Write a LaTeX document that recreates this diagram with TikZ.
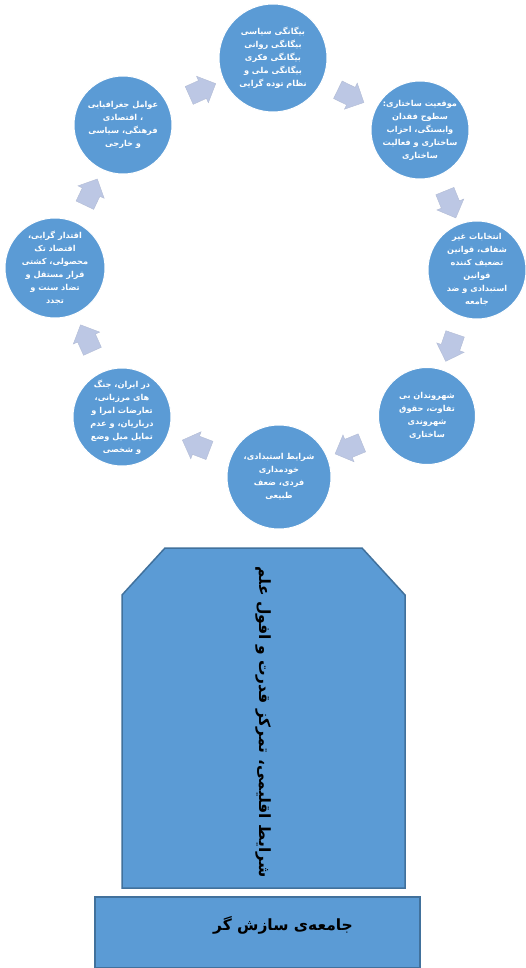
\documentclass[tikz,border=0pt]{standalone}
\usepackage{fontspec}
\usetikzlibrary{shapes.arrows,calc}
\TeXXeTstate=1
\newfontfamily\arabicfont[Script=Arabic]{DejaVu Sans}
\newcommand{\rl}[1]{\beginR #1\endR}
\definecolor{ofblue}{HTML}{5B9BD5}
\definecolor{ofedge}{HTML}{41719C}
\definecolor{arrowc}{HTML}{BCC7E4}
\tikzset{
  cyc/.style={circle, fill=ofblue, draw=white, line width=1pt, text=white,
    align=center, inner sep=0pt, font=\arabicfont\bfseries\fontsize{8.2}{13}\selectfont},
  cycarrow/.style={single arrow, fill=arrowc, draw=arrowc!85!gray, line width=0.4pt,
    minimum height=29pt, minimum width=29pt, single arrow head extend=4pt,
    inner xsep=4pt, inner ysep=8pt, sloped, allow upside down, midway},
  bigtxt/.style={font=\arabicfont\bfseries\fontsize{15.5}{18}\selectfont, text=black, inner sep=0pt}
}
\begin{document}
\begin{tikzpicture}[x=1pt,y=-1pt]
\useasboundingbox (0,0) rectangle (526,968);
% circles
\node[cyc, minimum size=108pt] (c1) at (273,58) {\rl{بیگانگی سیاسی}\\\rl{بیگانگی روانی}\\\rl{بیگانگی فکری}\\\rl{بیگانگی ملی و}\\\rl{نظام توده گرایی}};
\node[cyc, minimum size=98pt] (c2) at (420,130) {\rl{موقعیت ساختاری:}\\\rl{سطوح فقدان}\\\rl{وابستگی، احزاب}\\\rl{ساختاری و فعالیت}\\\rl{ساختاری}};
\node[cyc, minimum size=98pt] (c3) at (477,270) {\rl{انتخابات غیر}\\\rl{شفاف، قوانین}\\\rl{تضعیف کننده}\\\rl{قوانین}\\\rl{استبدادی و ضد}\\\rl{جامعه}};
\node[cyc, minimum size=97pt] (c4) at (427,416) {\rl{شهروندان بی}\\\rl{تفاوت، حقوق}\\\rl{شهروندی}\\\rl{ساختاری}};
\node[cyc, minimum size=104pt] (c5) at (279,477) {\rl{شرایط استبدادی،}\\\rl{خودمداری}\\\rl{فردی، ضعف}\\\rl{طبیعی}};
\node[cyc, minimum size=98pt] (c6) at (122,417) {\rl{در ایران، جنگ}\\\rl{های مرزبانی،}\\\rl{تعارضات امرا و}\\\rl{درباریان، و عدم}\\\rl{تمایل میل وضع}\\\rl{و شخصی}};
\node[cyc, minimum size=100pt] (c7) at (55,268) {\rl{اقتدار گرایی،}\\\rl{اقتصاد تک}\\\rl{محصولی، کشتی}\\\rl{قرار مستقل و}\\\rl{تضاد سنت و}\\\rl{تجدد}};
\node[cyc, minimum size=98pt] (c8) at (123,125) {\rl{عوامل جغرافیایی}\\\rl{، اقتصادی}\\\rl{فرهنگی، سیاسی}\\\rl{و خارجی}};
% arrows
\path (c1.center) -- node[cycarrow] (a12) {} (c2.center);
\path (c2.center) -- node[cycarrow] (a23) {} (c3.center);
\path (c3.center) -- node[cycarrow] (a34) {} (c4.center);
\path (c4.center) -- node[cycarrow] (a45) {} (c5.center);
\path (c5.center) -- node[cycarrow] (a56) {} (c6.center);
\path (c6.center) -- node[cycarrow] (a67) {} (c7.center);
\path (c7.center) -- node[cycarrow] (a78) {} (c8.center);
\path (c8.center) -- node[cycarrow] (a81) {} (c1.center);
% tall box
\draw[fill=ofblue, draw=ofedge, line width=1.5pt, line join=miter]
  (165,548) -- (362,548) -- (405,595) -- (405,888) -- (122,888) -- (122,595) -- cycle;
\node[bigtxt, rotate=-90] (tall) at (263,722) {\rl{شرایط اقلیمی، تمرکز قدرت و افول علم}};
% base box
\draw[fill=ofblue, draw=ofedge, line width=1.5pt] (95,897) rectangle (420,968);
\node[bigtxt] (base) at (283,925) {\rl{جامعه‌ی سازش گر}};
\end{tikzpicture}
\end{document}
